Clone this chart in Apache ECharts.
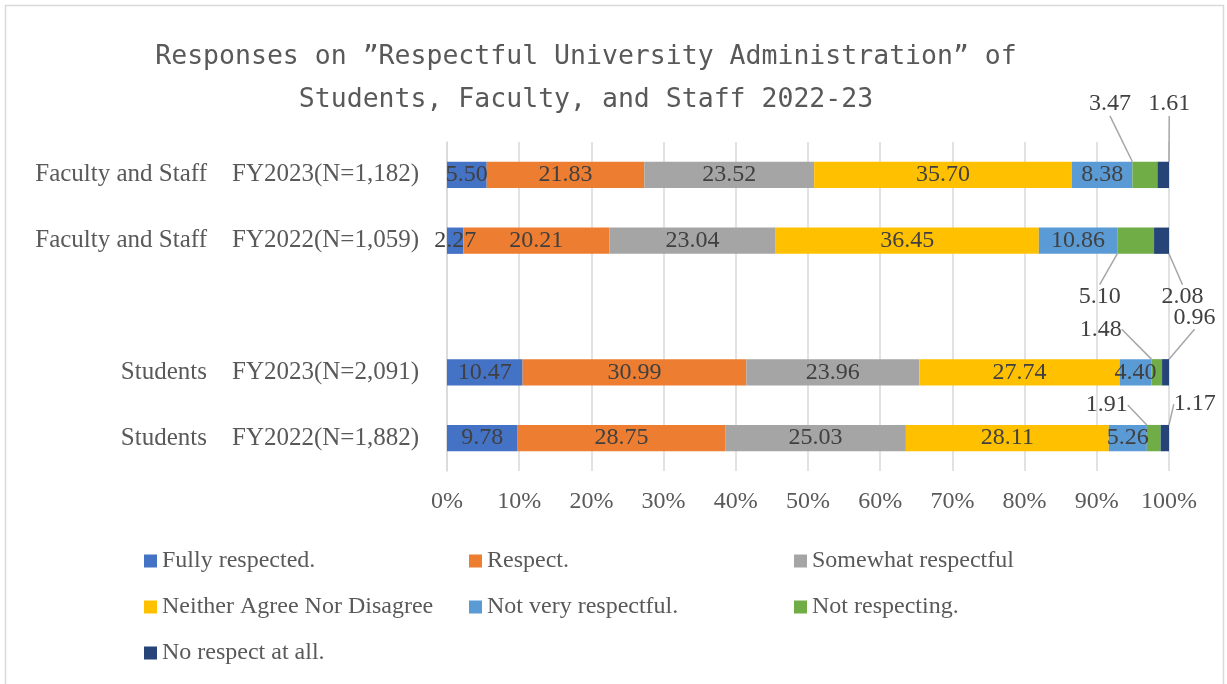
<!DOCTYPE html>
<html><head><meta charset="utf-8">
<script src="https://cdn.jsdelivr.net/npm/echarts@6/dist/echarts.min.js"></script>
<style>html,body{margin:0;padding:0;background:#fff}#c{width:1227px;height:684px}</style>
</head><body><div id="c"></div>
<script>
const categories = ['Faculty and Staff\u3000FY2023(N=1,182)', 'Faculty and Staff\u3000FY2022(N=1,059)', '', 'Students\u3000FY2023(N=2,091)', 'Students\u3000FY2022(N=1,882)'];
const seriesNames = ['Fully respected.', 'Respect.', 'Somewhat respectful', 'Neither Agree Nor Disagree', 'Not very respectful.', 'Not respecting.', 'No respect at all.'];
const fullyRespected = [5.50, 2.27, null, 10.47, 9.78];
const respect = [21.83, 20.21, null, 30.99, 28.75];
const somewhat = [23.52, 23.04, null, 23.96, 25.03];
const neither = [35.70, 36.45, null, 27.74, 28.11];
const notVery = [8.38, 10.86, null, 4.40, 5.26];
const notRespecting = [3.47, 5.10, null, 1.48, 1.91];
const noRespect = [1.61, 2.08, null, 0.96, 1.17];
const xTicks = [0, 10, 20, 30, 40, 50, 60, 70, 80, 90, 100];
const colors = ['#4472C4', '#ED7D31', '#A5A5A5', '#FFC000', '#5B9BD5', '#70AD47', '#264478'];

const values = [fullyRespected, respect, somewhat, neither, notVery, notRespecting, noRespect];
// label offsets for callout labels (series index -> data index -> [dx, dy])
const callouts = {
  5: {0: [-35, -71], 1: [-36, 56], 3: [-56, -43], 4: [-47, -33]},
  6: {0: [6, -71], 1: [21, 56], 3: [29, -55], 4: [30, -34]}
};
const serif = '"Liberation Serif", "DejaVu Serif", serif';

const chart = echarts.init(document.getElementById('c'), null, {renderer: 'canvas'});
const series = values.map((arr, si) => ({
  name: seriesNames[si],
  type: 'bar',
  stack: 'total',
  barWidth: '40%',
  itemStyle: {color: colors[si]},
  label: {show: true, position: 'inside', color: '#404040', fontFamily: serif, fontSize: 24,
          formatter: p => p.value == null ? '' : p.value.toFixed(2)},
  labelLine: {show: !!callouts[si], lineStyle: {color: '#A6A6A6', width: 1.5}, length2: 0},
  labelLayout: callouts[si] ? (p => {
    const o = callouts[si][p.dataIndex];
    return o ? {dx: o[0], dy: o[1]} : {};
  }) : undefined,
  data: arr.map(v => v == null ? '-' : v)
}));

chart.setOption({
  animation: false,
  backgroundColor: '#fff',
  title: {
    text: 'Responses on \u201DRespectful University Administration\u201D of\nStudents, Faculty, and Staff 2022-23',
    left: 581, top: 31, textAlign: 'center',
    textStyle: {fontFamily: '"DejaVu Sans Mono", monospace', fontSize: 26.5, fontWeight: 'normal', color: '#595959', lineHeight: 43}
  },
  graphic: [{type: 'rect', shape: {x: 5.5, y: 5.5, width: 1218, height: 700}, style: {fill: 'none', stroke: '#D9D9D9', lineWidth: 1.5}, silent: true}],
  legend: {
    left: 139, top: 533, width: 1000, itemGap: 0,
    itemWidth: 13, itemHeight: 13, icon: 'rect',
    data: seriesNames,
    textStyle: {fontFamily: serif, fontSize: 24, color: '#595959', width: 307, lineHeight: 46}
  },
  grid: {left: 447, right: 58, top: 142, bottom: 213, containLabel: false},
  xAxis: {
    type: 'value', min: 0, max: 100, interval: 10,
    axisLabel: {formatter: v => v + '%', fontFamily: serif, fontSize: 24, color: '#595959', margin: 19},
    splitLine: {show: true, lineStyle: {color: '#D9D9D9', width: 1.5}},
    axisLine: {show: false}, axisTick: {show: false}
  },
  yAxis: {
    type: 'category', inverse: true, data: categories,
    axisLabel: {fontFamily: serif, fontSize: 25, color: '#595959', margin: 28},
    axisLine: {show: true, lineStyle: {color: '#D9D9D9', width: 1.5}},
    axisTick: {show: false}
  },
  series: series
});
</script></body></html>
